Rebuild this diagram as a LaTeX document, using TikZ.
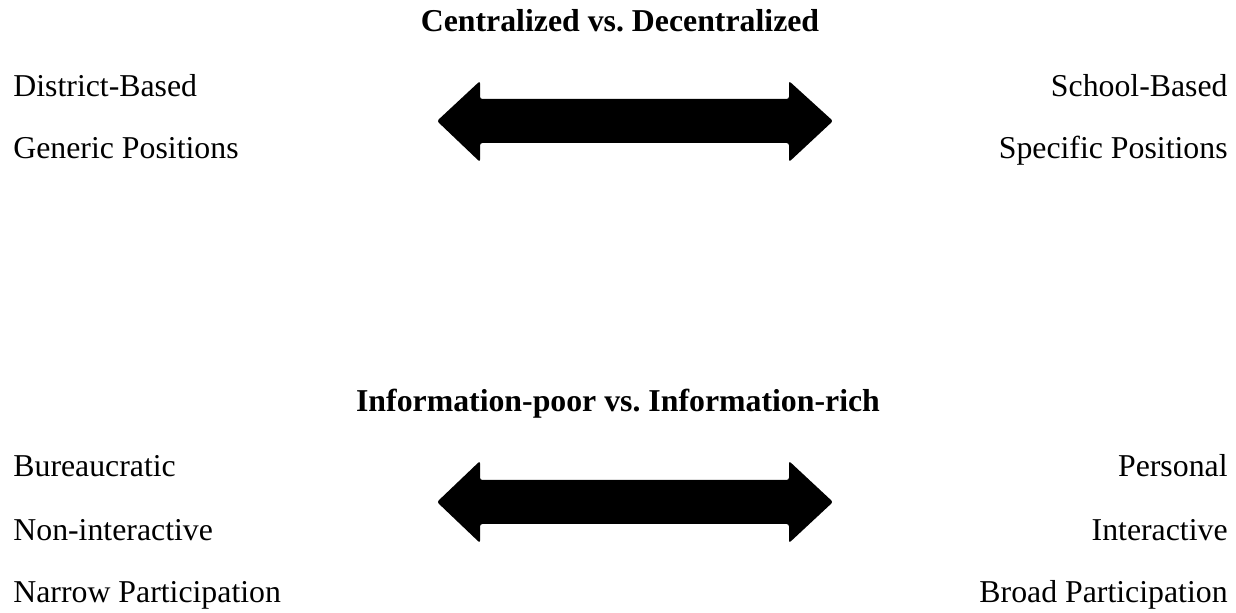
\documentclass[tikz,border=0pt]{standalone}
\usepackage{fontspec}
\setmainfont{Liberation Serif}
\usetikzlibrary{positioning}
\frenchspacing

\tikzset{
  lbl/.style={inner sep=0pt,font=\fontsize{15.9pt}{19pt}\selectfont},
  ttl/.style={lbl,font=\fontsize{15.9pt}{19pt}\selectfont\bfseries,anchor=base},
  lft/.style={lbl,anchor=base west},
  rgt/.style={lbl,anchor=base east},
  bigarrow/.style={fill=black,rounded corners=1.2pt}
}

\begin{document}
\begin{tikzpicture}[x=0.5pt,y=-0.5pt]
  \useasboundingbox (0,0) rectangle (1236,613);

  % centralized vs. decentralized
  \node[ttl] (t1) at (620,32) {Centralized vs. Decentralized};
  \node[lft] (district) at (13,97) {District-Based};
  \node[lft] (generic) at (13,159) {Generic Positions};
  \node[rgt] (school) at (1228,97) {School-Based};
  \node[rgt] (specific) at (1228,159) {Specific Positions};
  \fill[bigarrow] (437,121) -- (480,81) -- (480,99) -- (789,99) -- (789,81)
    -- (833,121) -- (789,162) -- (789,143) -- (480,143) -- (480,162) -- cycle;

  % information-poor vs. information-rich
  \node[ttl] (t2) at (618,412) {Information-poor vs. Information-rich};
  \node[lft] (bureau) at (13,477) {Bureaucratic};
  \node[lft] (nonint) at (13,541) {Non-interactive};
  \node[lft] (narrow) at (13,603) {Narrow Participation};
  \node[rgt] (personal) at (1228,477) {Personal};
  \node[rgt] (interact) at (1228,541) {Interactive};
  \node[rgt] (broad) at (1228,603) {Broad Participation};
  \fill[bigarrow] (437,502) -- (480,461) -- (480,480) -- (789,480) -- (789,461)
    -- (833,502) -- (789,543) -- (789,524) -- (480,524) -- (480,543) -- cycle;
\end{tikzpicture}
\end{document}
